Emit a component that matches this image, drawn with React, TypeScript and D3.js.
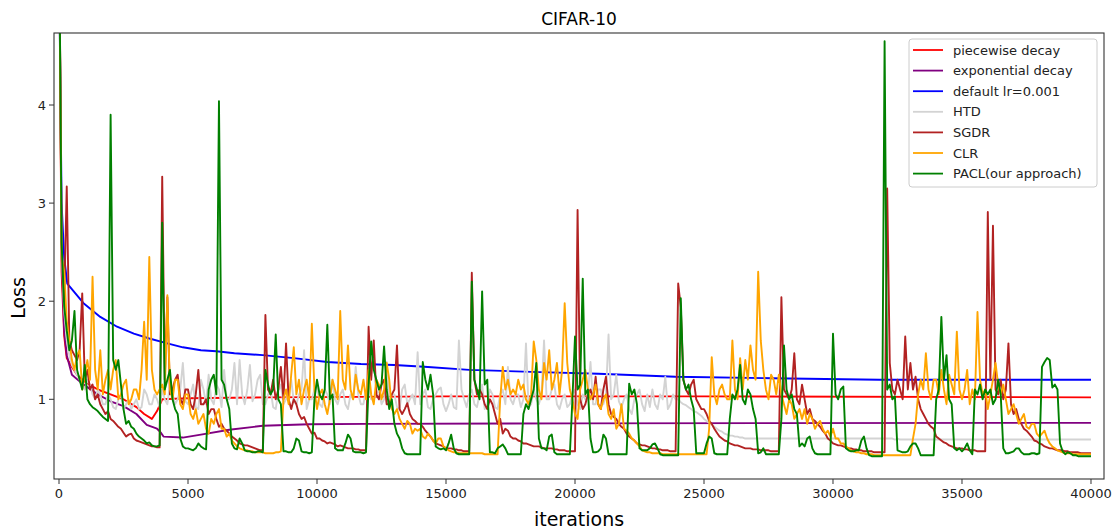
import React from 'react';
import * as d3 from 'd3';

// ---------------- data ----------------
const iterStep = 100;
const iterations = d3.range(0, 40001, iterStep);

const xTicks = [0, 5000, 10000, 15000, 20000, 25000, 30000, 35000, 40000];
const yTicks = [1, 2, 3, 4];

// piecewise decay: [iteration, loss]
const piecewise: [number, number][] = [
  [0, 6], [100, 2.3], [200, 1.65], [300, 1.42], [500, 1.33], [700, 1.25], [1000, 1.18],
  [1500, 1.1], [2000, 1.05], [2500, 1.0], [3000, 0.92], [3300, 0.85], [3600, 0.8],
  [3800, 0.88], [4000, 1.0], [5000, 1.01], [8000, 1.02], [15000, 1.03], [25000, 1.03], [40000, 1.02],
];

// exponential decay
const exponential: [number, number][] = [
  [0, 6], [100, 2.5], [200, 1.7], [300, 1.45], [500, 1.25], [900, 1.16], [1500, 1.05],
  [2000, 0.98], [2500, 0.93], [3000, 0.85], [3400, 0.74], [3800, 0.7], [3950, 0.66],
  [4050, 0.62], [4800, 0.61], [5500, 0.64], [6600, 0.69], [7900, 0.73], [9700, 0.745],
  [12000, 0.75], [20000, 0.755], [40000, 0.76],
];

// default lr=0.001
const defaultLr: [number, number][] = [
  [0, 5.5], [100, 3.0], [200, 2.45], [320, 2.18], [950, 1.98], [1600, 1.84], [2250, 1.74],
  [2900, 1.67], [3500, 1.62], [4200, 1.57], [4800, 1.53], [5500, 1.5], [6100, 1.49],
  [6800, 1.47], [7900, 1.45], [9100, 1.42], [10400, 1.38], [11700, 1.36], [13000, 1.35],
  [14300, 1.33], [15900, 1.3], [18300, 1.28], [20900, 1.26], [23900, 1.23], [27600, 1.215],
  [31800, 1.2], [36000, 1.2], [40000, 1.2],
];

// HTD, every 100 iterations (one row = 1000 iterations)
const htd = [
  6.0, 2.5, 1.9, 1.6, 1.45, 1.35, 1.3, 1.25, 1.2, 1.15,
  1.1, 1.2, 1.15, 1.05, 1.0, 1.1, 1.05, 0.95, 0.95, 1.05,
  1.0, 0.92, 0.9, 1.0, 1.05, 0.9, 0.95, 1.0, 0.9, 0.95,
  1.0, 0.9, 0.92, 1.1, 1.05, 0.95, 0.95, 1.05, 1.0, 0.92,
  1.1, 1.0, 0.95, 1.15, 1.05, 0.95, 1.0, 1.1, 1.37, 0.98,
  0.95, 1.05, 1.15, 0.92, 0.9, 1.2, 1.1, 0.95, 1.25, 1.0,
  0.95, 1.15, 1.1, 0.92, 1.3, 1.0, 1.0, 1.1, 1.37, 0.95,
  1.4, 1.05, 0.95, 1.1, 1.35, 0.98, 1.05, 1.2, 1.25, 0.95,
  0.95, 1.05, 1.1, 0.92, 0.9, 1.08, 1.15, 0.95, 1.0, 1.1,
  1.2, 0.98, 0.95, 1.05, 1.1, 1.5, 0.9, 1.0, 1.0, 1.1,
  1.15, 0.95, 0.92, 1.1, 1.05, 0.95, 1.2, 1.0, 0.95, 1.05,
  1.1, 0.95, 0.9, 1.05, 1.0, 1.33, 1.05, 0.95, 0.95, 1.1,
  1.15, 1.0, 1.0, 1.05, 1.1, 0.95, 1.0, 1.38, 0.95, 1.05,
  1.05, 0.92, 0.9, 1.1, 1.15, 0.95, 1.0, 1.05, 0.95, 1.48,
  0.95, 1.05, 1.1, 0.92, 0.9, 1.0, 1.05, 1.1, 1.12, 0.95,
  0.88, 0.95, 1.05, 0.92, 0.9, 1.6, 1.1, 1.0, 0.92, 1.05,
  1.1, 0.95, 0.92, 1.05, 1.15, 0.9, 0.95, 1.1, 1.05, 0.92,
  0.9, 1.05, 1.1, 0.95, 1.33, 1.0, 0.95, 1.05, 1.05, 0.92,
  1.0, 1.57, 0.92, 0.95, 1.1, 1.0, 0.95, 1.05, 1.6, 1.0,
  1.0, 1.1, 1.15, 0.95, 0.9, 1.0, 1.05, 0.92, 0.95, 1.05,
  1.1, 0.95, 0.9, 1.05, 1.0, 1.05, 1.38, 0.95, 0.95, 1.1,
  1.1, 0.95, 1.05, 1.66, 1.0, 1.05, 1.25, 0.98, 0.92, 1.0,
  1.05, 0.9, 0.85, 1.0, 1.05, 1.1, 0.95, 0.88, 1.05, 0.92,
  1.1, 0.95, 0.9, 1.05, 1.0, 1.23, 0.9, 0.95, 1.05, 1.0,
  1.0, 0.97, 0.95, 0.94, 0.92, 0.9, 0.88, 0.87, 0.85, 0.83,
  0.8, 0.78, 0.76, 0.74, 0.72, 0.7, 0.68, 0.67, 0.65, 0.64,
  0.63, 0.63, 0.62, 0.62, 0.61, 0.61, 0.6, 0.6, 0.6, 0.6,
  0.6, 0.6, 0.6, 0.6, 0.6, 0.6, 0.6, 0.6, 0.6, 0.6,
  0.6, 0.6, 0.6, 0.6, 0.6, 0.6, 0.6, 0.6, 0.6, 0.6,
  0.6, 0.6, 0.6, 0.6, 0.6, 0.6, 0.6, 0.6, 0.6, 0.6,
  0.6, 0.6, 0.6, 0.6, 0.6, 0.6, 0.6, 0.6, 0.6, 0.6,
  0.6, 0.6, 0.6, 0.6, 0.6, 0.6, 0.6, 0.6, 0.6, 0.6,
  0.6, 0.6, 0.6, 0.6, 0.59, 0.6, 0.59, 0.59, 0.59, 0.59,
  0.59, 0.59, 0.59, 0.59, 0.59, 0.59, 0.59, 0.59, 0.59, 0.59,
  0.59, 0.59, 0.59, 0.59, 0.59, 0.59, 0.59, 0.59, 0.59, 0.59,
  0.59, 0.59, 0.59, 0.59, 0.59, 0.59, 0.59, 0.59, 0.59, 0.59,
  0.59, 0.59, 0.59, 0.59, 0.59, 0.59, 0.59, 0.59, 0.59, 0.59,
  0.59, 0.59, 0.59, 0.59, 0.59, 0.59, 0.59, 0.59, 0.59, 0.59,
  0.59, 0.59, 0.59, 0.59, 0.59, 0.59, 0.59, 0.59, 0.59, 0.59,
  0.59, 0.59, 0.59, 0.59, 0.59, 0.59, 0.59, 0.59, 0.59, 0.59,
  0.59,
];

// SGDR
const sgdr = [
  6.0, 2.6, 2.0, 3.17, 1.6, 1.5, 1.45, 1.4, 1.5, 2.08,
  1.2, 1.3, 1.1, 1.15, 1.0, 1.05, 0.95, 0.9, 0.85, 0.88,
  0.8, 0.78, 0.75, 0.72, 0.7, 0.66, 0.62, 0.64, 0.65, 0.6,
  0.58, 0.57, 0.56, 0.55, 0.54, 0.53, 0.52, 0.52, 0.51, 0.51,
  3.27, 1.2, 2.04, 1.05, 1.1, 1.2, 1.25, 1.0, 0.95, 1.1,
  1.1, 0.95, 0.9, 1.05, 1.3, 0.95, 0.95, 1.0, 0.85, 0.9,
  0.9, 0.8, 0.72, 0.75, 0.7, 0.68, 0.65, 0.62, 0.6, 0.58,
  0.55, 0.54, 0.53, 0.53, 0.52, 0.51, 0.5, 0.49, 0.48, 0.48,
  1.86, 1.1, 1.05, 1.2, 1.0, 1.1, 1.33, 1.0, 1.57, 1.0,
  0.9, 1.0, 0.95, 0.85, 0.8, 0.82, 0.75, 0.7, 0.65, 0.66,
  0.6, 0.6, 0.58, 0.57, 0.55, 0.56, 0.55, 0.54, 0.52, 0.53,
  0.52, 0.51, 0.5, 0.5, 0.5, 0.49, 0.49, 0.48, 0.48, 0.48,
  1.74, 1.2, 1.6, 1.05, 1.0, 1.15, 1.2, 0.95, 0.95, 1.05,
  1.1, 1.55, 0.9, 0.85, 0.9, 0.96, 0.85, 0.8, 0.78, 0.75,
  0.75, 0.72, 0.68, 0.65, 0.62, 0.58, 0.55, 0.54, 0.53, 0.52,
  0.5, 0.5, 0.5, 0.49, 0.49, 0.48, 0.48, 0.47, 0.47, 0.47,
  2.29, 1.2, 1.05, 1.1, 1.05, 0.95, 0.9, 1.0, 0.95, 0.85,
  0.75, 0.8, 0.65, 0.7, 0.68, 0.62, 0.6, 0.6, 0.58, 0.57,
  0.55, 0.55, 0.54, 0.53, 0.52, 0.52, 0.52, 0.51, 0.5, 0.5,
  0.5, 0.5, 0.49, 0.49, 0.48, 0.48, 0.48, 0.47, 0.47, 0.47,
  0.47, 2.93, 1.0, 0.9, 0.95, 1.05, 1.1, 1.0, 1.23, 0.95,
  0.9, 1.1, 1.23, 0.95, 0.85, 0.82, 0.8, 0.75, 0.72, 0.7,
  0.65, 0.62, 0.6, 0.58, 0.55, 0.54, 0.53, 0.53, 0.52, 0.51,
  0.5, 0.5, 0.49, 0.49, 0.48, 0.48, 0.48, 0.47, 0.47, 0.47,
  2.18, 1.94, 1.2, 1.1, 1.05, 1.15, 1.2, 1.0, 0.95, 0.9,
  0.9, 0.85, 0.78, 0.75, 0.7, 0.66, 0.62, 0.6, 0.58, 0.57,
  0.55, 0.54, 0.53, 0.53, 0.52, 0.51, 0.5, 0.5, 0.5, 0.49,
  0.49, 0.49, 0.48, 0.48, 0.48, 0.48, 0.47, 0.47, 0.47, 0.47,
  2.04, 1.1, 1.05, 1.0, 1.1, 1.47, 1.0, 0.95, 1.15, 1.0,
  0.85, 0.9, 0.8, 0.78, 0.75, 0.72, 0.68, 0.65, 0.6, 0.58,
  0.55, 0.54, 0.53, 0.53, 0.52, 0.51, 0.5, 0.5, 0.49, 0.49,
  0.48, 0.48, 0.47, 0.47, 0.47, 0.47, 0.46, 0.46, 0.46, 0.46,
  0.46, 3.15, 1.37, 1.1, 1.05, 1.2, 1.1, 1.0, 1.64, 1.1,
  1.37, 1.1, 1.23, 1.0, 0.9, 0.85, 0.8, 0.75, 0.72, 0.7,
  0.62, 0.6, 0.58, 0.56, 0.55, 0.53, 0.52, 0.51, 0.5, 0.5,
  0.5, 0.49, 0.49, 0.48, 0.48, 0.48, 0.47, 0.47, 0.47, 0.47,
  2.91, 1.2, 2.77, 1.1, 1.05, 1.2, 1.0, 1.1, 1.57, 0.95,
  0.85, 0.9, 0.8, 0.75, 0.7, 0.68, 0.65, 0.62, 0.58, 0.57,
  0.55, 0.54, 0.52, 0.51, 0.5, 0.5, 0.49, 0.48, 0.48, 0.48,
  0.47, 0.47, 0.46, 0.46, 0.46, 0.46, 0.45, 0.45, 0.45, 0.45,
  0.45,
];

// CLR
const clr = [
  6.0, 2.45, 2.3, 1.8, 1.6, 1.4, 1.3, 1.45, 1.5, 1.1,
  1.25, 1.4, 1.2, 2.25, 1.3, 1.1, 1.5, 1.05, 1.2, 1.3,
  1.1, 1.3, 1.4, 1.0, 1.05, 1.15, 1.2, 0.95, 1.0, 1.1,
  1.1, 1.0, 1.3, 1.79, 1.2, 2.45, 1.3, 1.1, 1.05, 1.1,
  1.15, 1.05, 2.06, 1.1, 1.0, 1.2, 1.2, 0.95, 0.9, 1.05,
  1.05, 0.85, 0.8, 0.9, 0.75, 0.8, 0.85, 0.7, 0.65, 0.8,
  0.75, 0.85, 0.9, 0.7, 0.7, 0.62, 0.65, 0.58, 0.55, 0.52,
  0.5, 0.49, 0.48, 0.48, 0.47, 0.47, 0.46, 0.46, 0.46, 0.46,
  0.45, 0.45, 0.45, 0.45, 0.46, 0.46, 0.47, 1.0, 1.1, 0.95,
  1.25, 1.53, 1.05, 1.2, 0.95, 1.1, 1.2, 1.0, 1.77, 1.1,
  0.9, 1.05, 1.1, 0.95, 0.85, 1.0, 1.2, 1.1, 1.0, 1.9,
  1.2, 1.1, 1.55, 1.1, 1.0, 1.25, 1.1, 1.05, 1.2, 1.0,
  1.3, 1.05, 0.95, 1.2, 1.15, 1.0, 1.1, 1.37, 1.2, 0.9,
  0.85, 0.9, 0.8, 0.75, 0.7, 0.78, 0.75, 0.65, 0.7, 0.68,
  0.7, 0.62, 0.6, 0.65, 0.62, 0.58, 0.55, 0.6, 0.6, 0.52,
  0.5, 0.48, 0.47, 0.46, 0.46, 0.45, 0.45, 0.45, 0.45, 0.45,
  0.45, 0.45, 0.45, 0.45, 0.45, 0.44, 0.44, 0.44, 0.44, 0.44,
  0.44, 1.0, 1.33, 1.1, 1.2, 1.05, 1.1, 1.05, 1.2, 1.1,
  1.15, 1.0, 0.95, 1.05, 1.59, 1.4, 1.1, 1.0, 1.37, 1.2,
  1.5, 1.1, 1.2, 1.37, 1.05, 1.3, 1.98, 1.37, 1.1, 1.0,
  0.85, 0.8, 1.1, 1.2, 1.3, 1.1, 1.0, 1.05, 1.15, 0.95,
  0.9, 1.0, 1.05, 0.85, 0.8, 0.9, 0.7, 0.75, 0.95, 0.7,
  0.68, 0.65, 0.6, 0.58, 0.55, 0.52, 0.48, 0.47, 0.46, 0.46,
  0.45, 0.45, 0.45, 0.45, 0.44, 0.44, 0.44, 0.44, 0.44, 0.44,
  0.44, 0.44, 0.44, 0.44, 0.44, 0.44, 0.44, 0.44, 0.44, 0.44,
  0.44, 0.44, 0.7, 1.43, 1.05, 0.95, 1.1, 1.15, 1.05, 1.0,
  1.0, 1.6, 1.1, 1.0, 1.42, 1.1, 1.4, 1.2, 1.55, 1.3,
  1.2, 2.3, 1.6, 1.3, 1.1, 1.0, 1.25, 1.2, 1.05, 1.25,
  1.05, 0.95, 0.85, 1.0, 0.95, 0.8, 0.85, 0.9, 0.8, 0.9,
  0.75, 0.85, 0.8, 0.7, 0.75, 0.78, 0.7, 0.65, 0.68, 0.62,
  0.7, 0.6, 0.6, 0.55, 0.55, 0.52, 0.5, 0.48, 0.47, 0.46,
  0.46, 0.45, 0.45, 0.44, 0.44, 0.44, 0.43, 0.43, 0.43, 0.43,
  0.43, 0.43, 0.43, 0.43, 0.43, 0.43, 0.43, 0.43, 0.43, 0.43,
  0.43, 0.6, 0.75, 1.05, 1.2, 1.1, 1.47, 1.1, 1.0, 1.2,
  1.2, 1.05, 1.3, 1.1, 0.95, 1.25, 1.15, 1.05, 1.69, 1.1,
  1.0, 1.1, 1.3, 0.95, 1.1, 1.0, 1.89, 1.2, 1.05, 1.1,
  0.9, 1.05, 1.2, 1.37, 1.15, 1.05, 1.15, 1.0, 0.85, 0.9,
  0.95, 0.85, 0.75, 0.8, 0.85, 0.72, 0.7, 0.75, 0.75, 0.65,
  0.62, 0.65, 0.68, 0.6, 0.55, 0.52, 0.5, 0.48, 0.47, 0.46,
  0.45, 0.45, 0.45, 0.44, 0.44, 0.44, 0.44, 0.44, 0.44, 0.44,
  0.44,
];

// PACL (our approach)
const pacl = [
  6.0, 2.6, 1.95, 1.7, 1.5, 1.6, 1.9, 1.3, 1.2, 1.1,
  1.35, 1.0, 0.95, 0.92, 0.9, 0.88, 0.85, 0.82, 0.8, 0.78,
  3.9, 1.4, 1.3, 1.4, 1.15, 0.9, 0.75, 0.78, 0.72, 0.7,
  0.65, 0.62, 0.6, 0.58, 0.55, 0.56, 0.53, 0.52, 0.52, 0.53,
  2.8, 1.1, 1.2, 1.3, 1.0, 0.9, 0.85, 0.6, 0.52, 0.5,
  0.5, 0.49, 0.48, 0.5, 0.55, 0.52, 0.5, 0.49, 1.1, 1.2,
  1.25, 1.05, 4.04, 1.2, 1.15, 1.0, 0.9, 0.55, 0.5, 0.49,
  0.6, 0.55, 0.48, 0.47, 0.47, 0.46, 0.46, 0.47, 0.47, 0.46,
  1.3, 1.15, 1.05, 1.1, 1.66, 1.0, 0.95, 0.47, 0.47, 0.46,
  0.46, 0.5, 0.6, 0.58, 0.47, 0.46, 0.46, 0.45, 0.46, 1.0,
  1.2, 1.05, 1.0, 1.1, 1.76, 1.0, 1.05, 0.5, 0.48, 0.48,
  0.48, 0.55, 0.64, 0.6, 0.47, 0.46, 0.46, 0.46, 0.45, 0.46,
  1.15, 1.59, 1.3, 1.2, 1.1, 1.15, 1.54, 1.1, 0.9, 1.0,
  0.75, 0.65, 0.6, 0.5, 0.45, 0.44, 0.44, 0.44, 0.44, 0.44,
  0.44, 1.38, 1.2, 1.1, 1.25, 1.05, 0.52, 0.5, 0.49, 0.5,
  0.48, 0.55, 0.64, 0.5, 0.45, 0.44, 0.44, 0.44, 0.44, 0.44,
  2.2, 1.2, 1.1, 1.0, 2.1, 1.15, 1.2, 0.46, 0.46, 0.45,
  0.5, 0.52, 0.54, 0.5, 0.44, 0.44, 0.44, 0.44, 0.44, 0.44,
  0.85, 0.95, 0.9, 1.0, 1.1, 1.37, 0.6, 0.5, 0.5, 0.48,
  0.62, 0.64, 0.46, 0.44, 0.44, 0.44, 0.44, 0.44, 0.44, 1.0,
  1.64, 1.1, 1.15, 2.23, 1.05, 1.1, 0.6, 0.46, 0.46, 0.47,
  0.5, 0.64, 0.6, 0.44, 0.44, 0.44, 0.44, 0.44, 0.44, 0.44,
  0.44, 1.16, 1.05, 1.1, 0.95, 0.5, 0.48, 0.48, 0.48, 0.5,
  0.54, 0.55, 0.5, 0.44, 0.43, 0.43, 0.43, 0.43, 0.43, 0.43,
  0.43, 2.03, 1.2, 1.1, 1.15, 1.0, 0.9, 0.45, 0.45, 0.45,
  0.45, 0.55, 0.62, 0.6, 0.45, 0.44, 0.44, 0.44, 0.44, 0.44,
  0.8, 1.05, 1.0, 1.1, 1.35, 1.0, 0.95, 1.1, 1.05, 0.9,
  0.8, 0.45, 0.46, 0.5, 0.44, 0.44, 0.44, 0.44, 0.44, 0.44,
  0.8, 1.55, 1.1, 1.0, 1.05, 0.9, 0.85, 0.52, 0.55, 0.52,
  0.6, 0.62, 0.5, 0.45, 0.44, 0.44, 0.44, 0.44, 0.44, 0.44,
  1.67, 1.05, 1.0, 1.1, 1.13, 0.5, 0.48, 0.47, 0.47, 0.48,
  0.48, 0.58, 0.62, 0.5, 0.43, 0.42, 0.42, 0.42, 0.42, 0.42,
  4.65, 1.1, 1.15, 1.0, 1.03, 0.48, 0.47, 0.46, 0.46, 0.47,
  0.52, 0.55, 0.55, 0.5, 0.43, 0.43, 0.43, 0.43, 0.43, 0.43,
  1.0, 1.1, 1.84, 1.2, 1.45, 1.0, 0.95, 0.5, 0.48, 0.5,
  0.47, 0.5, 0.55, 0.48, 0.44, 1.1, 1.05, 1.15, 1.0, 1.1,
  1.05, 1.1, 0.95, 1.0, 1.2, 1.05, 0.5, 0.45, 0.45, 0.46,
  0.47, 0.5, 0.5, 0.46, 0.44, 0.44, 0.44, 0.45, 0.45, 0.44,
  0.45, 1.33, 1.38, 1.42, 1.4, 1.12, 1.15, 1.1, 0.55, 0.47,
  0.44, 0.46, 0.45, 0.43, 0.43, 0.42, 0.42, 0.42, 0.42, 0.42,
  0.42,
];

const seriesNames = [
  'piecewise decay', 'exponential decay', 'default lr=0.001', 'HTD', 'SGDR', 'CLR', 'PACL(our approach)',
];
const seriesColors = ['#ff0000', '#800080', '#0000ff', '#d3d3d3', '#b22222', '#ffa500', '#008000'];

// ---------------- chart ----------------
const W = 1118;
const H = 532;
const plot = { left: 54, right: 1104, top: 33, bottom: 479 };
const FONT = 'DejaVu Sans, sans-serif';

export default function App() {
  const x = d3.scaleLinear().domain([-194, 40504]).range([plot.left, plot.right]);
  const y = d3.scaleLinear().domain([0.1876, 4.734]).range([plot.bottom, plot.top]);

  const line = d3
    .line<[number, number]>()
    .x((d) => x(d[0]))
    .y((d) => y(d[1]));

  const zipIter = (vals: number[]): [number, number][] =>
    vals.map((v, i) => [iterations[i], v] as [number, number]);

  const allSeries: [number, number][][] = [
    piecewise,
    exponential,
    defaultLr,
    zipIter(htd),
    zipIter(sgdr),
    zipIter(clr),
    zipIter(pacl),
  ];

  const legendX = 909;
  const legendY = 39;
  const rowH = 20.6;

  return (
    <svg
      width={W}
      height={H}
      style={{ position: 'absolute', left: 0, top: 0, background: '#fff' }}
      fontFamily={FONT}
    >
      <defs>
        <clipPath id="plotClip">
          <rect x={plot.left} y={plot.top} width={plot.right - plot.left} height={plot.bottom - plot.top} />
        </clipPath>
      </defs>
      <rect x={0} y={0} width={W} height={H} fill="#fff" />

      {/* title */}
      <text x={(plot.left + plot.right) / 2} y={25} textAnchor="middle" fontSize={17} fill="#000">
        CIFAR-10
      </text>

      {/* series */}
      <g clipPath="url(#plotClip)">
        {allSeries.map((s, i) => (
          <path
            key={seriesNames[i]}
            d={line(s) || ''}
            fill="none"
            stroke={seriesColors[i]}
            strokeWidth={1.9}
            strokeLinejoin="round"
            strokeLinecap="butt"
          />
        ))}
      </g>

      {/* frame */}
      <rect
        x={plot.left}
        y={plot.top}
        width={plot.right - plot.left}
        height={plot.bottom - plot.top}
        fill="none"
        stroke="#333"
        strokeWidth={1.1}
      />

      {/* x ticks */}
      {xTicks.map((t) => (
        <g key={'x' + t}>
          <line x1={x(t)} x2={x(t)} y1={plot.bottom} y2={plot.bottom + 5} stroke="#333" strokeWidth={1} />
          <text x={x(t)} y={plot.bottom + 19} textAnchor="middle" fontSize={13} fill="#222">
            {t}
          </text>
        </g>
      ))}

      {/* y ticks */}
      {yTicks.map((t) => (
        <g key={'y' + t}>
          <line x1={plot.left - 5} x2={plot.left} y1={y(t)} y2={y(t)} stroke="#333" strokeWidth={1} />
          <text x={plot.left - 8} y={y(t) + 4.5} textAnchor="end" fontSize={13} fill="#222">
            {t}
          </text>
        </g>
      ))}

      {/* axis labels */}
      <text x={(plot.left + plot.right) / 2} y={526} textAnchor="middle" fontSize={19} fill="#000">
        iterations
      </text>
      <text
        transform={`translate(25, ${(plot.top + plot.bottom) / 2 + 42}) rotate(-90)`}
        textAnchor="middle"
        fontSize={19}
        fill="#000"
      >
        Loss
      </text>

      {/* legend */}
      <rect
        x={legendX}
        y={legendY}
        width={188}
        height={148}
        rx={3}
        fill="#fff"
        fillOpacity={0.85}
        stroke="#cccccc"
        strokeWidth={1}
      />
      {seriesNames.map((name, i) => {
        const cy = legendY + 11 + i * rowH;
        return (
          <g key={'lg' + name}>
            <line x1={legendX + 4} x2={legendX + 34} y1={cy} y2={cy} stroke={seriesColors[i]} strokeWidth={1.8} />
            <text x={legendX + 44} y={cy + 4.5} fontSize={13} fill="#222">
              {name}
            </text>
          </g>
        );
      })}
    </svg>
  );
}
